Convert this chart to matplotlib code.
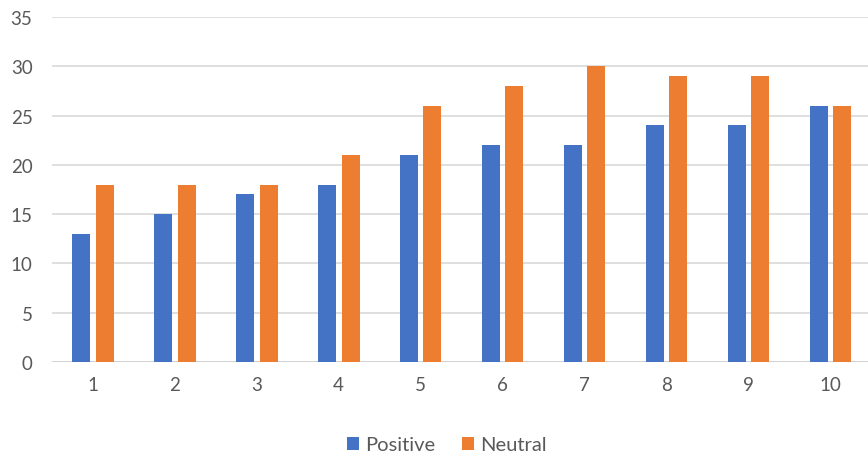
import matplotlib.pyplot as plt
import numpy as np

plt.rcParams['font.family'] = ['Lato', 'DejaVu Sans']

# data
groups = [1, 2, 3, 4, 5, 6, 7, 8, 9, 10]
positive = [13, 15, 17, 18, 21, 22, 22, 24, 24, 26]
neutral = [18, 18, 18, 21, 26, 28, 30, 29, 29, 26]

BLUE = "#4472C4"
ORANGE = "#ED7D31"
GREY = "#595959"

fig = plt.figure(figsize=(8.68, 4.6), dpi=100)
ax = fig.add_axes([52 / 868, 1 - 363 / 460, 819 / 868, 345 / 460])

x = np.array(groups)
w = 0.22
ax.bar(x - 0.14, positive, width=w, color=BLUE, label="Positive", zorder=3)
ax.bar(x + 0.145, neutral, width=w, color=ORANGE, label="Neutral", zorder=3)

ax.set_xlim(0.5, 10.5)
ax.set_ylim(0, 35)
ax.set_yticks(range(0, 36, 5))
ax.set_xticks(x)
ax.set_xticklabels([str(g) for g in groups])
ax.yaxis.grid(True, color="#D9D9D9", linewidth=1.2, zorder=0)
for s in ax.spines.values():
    s.set_visible(False)
ax.axhline(0, color="#D0D0D0", linewidth=1.2, zorder=2)
ax.tick_params(axis="both", length=0, labelsize=13.5, colors=GREY)
ax.tick_params(axis="y", pad=14)
ax.tick_params(axis="x", pad=10)

fig.legend(loc="center", bbox_to_anchor=(447 / 868, 1 - 446 / 460), ncol=2,
           frameon=False, fontsize=14.5, labelcolor=GREY, handlelength=0.6,
           handleheight=0.6, handletextpad=0.3, columnspacing=1.3)

fig.savefig("out.png", dpi=100)
